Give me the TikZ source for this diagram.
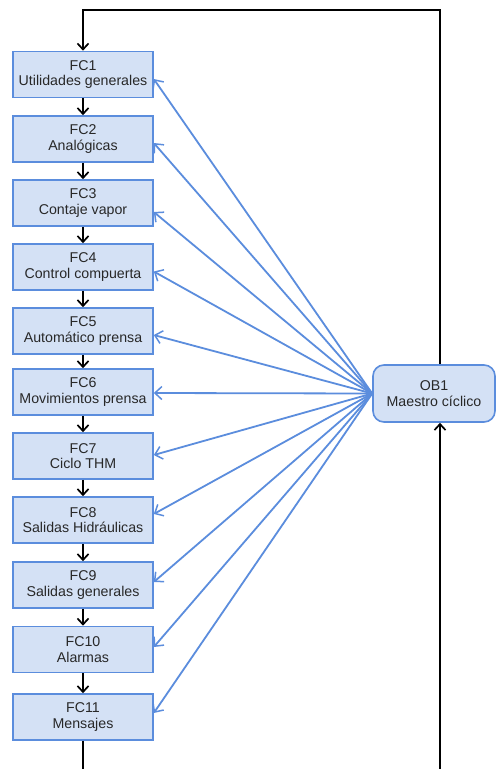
\documentclass[tikz,border=0pt]{standalone}
\usepackage{fontspec}
\setmainfont{Liberation Sans}
\usetikzlibrary{arrows.meta}
\definecolor{bstroke}{RGB}{91,141,221}
\definecolor{bfill}{RGB}{212,225,245}
\definecolor{txt}{RGB}{40,40,40}
\begin{document}
\begin{tikzpicture}[x=1pt,y=-1pt,
  fcbox/.style={draw=bstroke, fill=bfill, line width=1.6pt, minimum width=140pt, minimum height=46pt,
    align=center, font=\fontsize{14.2}{15.5}\selectfont, text=txt, inner sep=0pt},
  obbox/.style={fcbox, minimum width=122pt, minimum height=57pt, rounded corners=11pt},
  flow/.style={draw=black, line width=1.9pt, -{Straight Barb[length=6pt,width=11pt,line width=1.7pt]}},
  plain/.style={draw=black, line width=1.9pt},
  call/.style={draw=bstroke, line width=1.8pt, -{Straight Barb[length=7pt,width=13pt,line width=1.5pt]}}]
\useasboundingbox (0,0) rectangle (496,769);
\fill[white] (0,0) rectangle (496,769);

\node[fcbox] (fc1) at (83,74.5) {FC1\\Utilidades generales};
\node[fcbox] (fc2) at (83,139) {FC2\\Analógicas};
\node[fcbox] (fc3) at (83,203) {FC3\\Contaje vapor};
\node[fcbox] (fc4) at (83,267) {FC4\\Control compuerta};
\node[fcbox] (fc5) at (83,331) {FC5\\Automático prensa};
\node[fcbox] (fc6) at (83,392) {FC6\\Movimientos prensa};
\node[fcbox] (fc7) at (83,456) {FC7\\Ciclo THM};
\node[fcbox] (fc8) at (83,520) {FC8\\Salidas Hidráulicas};
\node[fcbox] (fc9) at (83,585) {FC9\\Salidas generales};
\node[fcbox] (fc10) at (83,649.5) {FC10\\Alarmas};
\node[fcbox] (fc11) at (83,717) {FC11\\Mensajes};
\node[obbox] (ob1) at (434,393.5) {OB1\\Maestro cíclico};

\coordinate (tl) at (83,10);
\coordinate (tr) at (440,10);
\coordinate (bl) at (83,769);
\coordinate (br) at (440,769);

\draw[flow] ([xshift=6pt]ob1.north) -- (tr) -- (tl) -- (fc1.north);
\draw[plain] (fc11.south) -- (bl);
\draw[flow] (br) -- ([xshift=6pt]ob1.south);

\foreach \a/\b in {fc1/fc2,fc2/fc3,fc3/fc4,fc4/fc5,fc5/fc6,fc6/fc7,fc7/fc8,fc8/fc9,fc9/fc10,fc10/fc11}
  \draw[flow] (\a.south) -- (\b.north);

\foreach \n/\s in {fc1/-4.5,fc2/-4,fc3/-9,fc4/-4.5,fc5/-4,fc6/-1,fc7/1,fc8/6,fc9/3,fc10/2.5,fc11/4}
  \draw[call] (ob1.west) -- ([yshift=\s pt]\n.east);
\end{tikzpicture}
\end{document}
